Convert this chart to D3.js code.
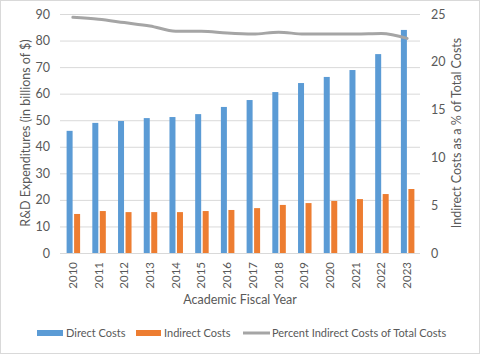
<!DOCTYPE html>
<html lang="en">
<head>
    <meta charset="UTF-8">
    <title>R&amp;D Expenditures</title>
    <script src="https://d3js.org/d3.v7.min.js"></script>
    <style>
        body { margin: 0; background: #fff; }
        svg text { font-family: Lato, "Liberation Sans", sans-serif; fill: #595959; }
    </style>
</head>
<body>
    <svg width="480" height="354"></svg>

    <script>
        // Data
        const years = ["2010", "2011", "2012", "2013", "2014", "2015", "2016",
                       "2017", "2018", "2019", "2020", "2021", "2022", "2023"];
        const directCosts = [46, 49, 49.7, 50.8, 51.2, 52.3, 55, 57.6, 60.6, 64, 66.3, 68.9, 74.9, 84];
        const indirectCosts = [14.7, 15.8, 15.4, 15.4, 15.4, 15.8, 16.2, 16.9, 18.1, 18.8, 19.6, 20.3, 22.2, 24.1];
        const percentIndirect = [24.65, 24.45, 24.1, 23.75, 23.2, 23.2, 23.0, 22.9, 23.1, 22.9, 22.9, 22.9, 22.95, 22.45];
        const leftTicks = [0, 10, 20, 30, 40, 50, 60, 70, 80, 90];
        const rightTicks = [0, 5, 10, 15, 20, 25];

        const svg = d3.select("svg");
        const plot = { left: 60, right: 420, top: 14, bottom: 253 };

        // chart border
        svg.append("rect")
            .attr("x", 0.5).attr("y", 0.5)
            .attr("width", 479).attr("height", 353)
            .attr("fill", "#fff").attr("stroke", "#d9d9d9");

        const x = d3.scaleBand().domain(years).range([plot.left, plot.right]);
        const yLeft = d3.scaleLinear().domain([0, 90]).range([plot.bottom, plot.top]);
        const yRight = d3.scaleLinear().domain([0, 25]).range([plot.bottom, plot.top]);

        const barW = 6, gap = 1.5;

        // gridlines
        svg.append("g")
            .attr("transform", `translate(${plot.left},0)`)
            .call(d3.axisLeft(yLeft).tickValues(leftTicks).tickSize(-(plot.right - plot.left)).tickFormat(""))
            .call(g => g.select(".domain").remove())
            .call(g => g.selectAll("line").attr("stroke", "#d9d9d9").attr("stroke-width", 1));

        // left axis labels
        svg.append("g")
            .attr("transform", `translate(${plot.left},0)`)
            .call(d3.axisLeft(yLeft).tickValues(leftTicks).tickSize(0).tickPadding(10))
            .call(g => g.select(".domain").remove())
            .call(g => g.selectAll("text").attr("font-size", 12.5));

        // right axis labels
        svg.append("g")
            .attr("transform", `translate(${plot.right},0)`)
            .call(d3.axisRight(yRight).tickValues(rightTicks).tickSize(0).tickPadding(11))
            .call(g => g.select(".domain").remove())
            .call(g => g.selectAll("text").attr("font-size", 12.5));

        // bars
        svg.append("g").selectAll("rect")
            .data(directCosts)
            .join("rect")
            .attr("x", (d, i) => x(years[i]) + x.bandwidth() / 2 - barW - gap / 2 + 0.5)
            .attr("y", d => yLeft(d))
            .attr("width", barW)
            .attr("height", d => plot.bottom - yLeft(d))
            .attr("fill", "#5b9bd5");

        svg.append("g").selectAll("rect")
            .data(indirectCosts)
            .join("rect")
            .attr("x", (d, i) => x(years[i]) + x.bandwidth() / 2 + gap / 2 + 0.5)
            .attr("y", d => yLeft(d))
            .attr("width", barW)
            .attr("height", d => plot.bottom - yLeft(d))
            .attr("fill", "#ed7d31");

        // baseline
        svg.append("line")
            .attr("x1", plot.left).attr("x2", plot.right)
            .attr("y1", plot.bottom + 0.5).attr("y2", plot.bottom + 0.5)
            .attr("stroke", "#d9d9d9");

        // percent line
        const line = d3.line()
            .x((d, i) => x(years[i]) + x.bandwidth() / 2)
            .y(d => yRight(d))
            .curve(d3.curveMonotoneX);

        svg.append("path")
            .datum(percentIndirect)
            .attr("fill", "none")
            .attr("stroke", "#a5a5a5")
            .attr("stroke-width", 3)
            .attr("stroke-linecap", "round")
            .attr("d", line);

        // x axis labels (rotated)
        svg.append("g").selectAll("text")
            .data(years)
            .join("text")
            .attr("transform", d => `translate(${x(d) + x.bandwidth() / 2 + 4},${plot.bottom + 9}) rotate(-90)`)
            .attr("text-anchor", "end")
            .attr("font-size", 11.5)
            .text(d => d);

        // axis titles
        svg.append("text")
            .attr("x", 240).attr("y", 304)
            .attr("text-anchor", "middle")
            .attr("font-size", 12.5)
            .text("Academic Fiscal Year");

        svg.append("text")
            .attr("transform", `translate(30,133) rotate(-90)`)
            .attr("text-anchor", "middle")
            .attr("font-size", 12.5)
            .text("R&D Expenditures (in billions of $)");

        svg.append("text")
            .attr("transform", `translate(461,133) rotate(-90)`)
            .attr("text-anchor", "middle")
            .attr("font-size", 12.5)
            .text("Indirect Costs as a % of Total Costs");

        // legend
        const legend = svg.append("g").attr("transform", "translate(0,333)");
        legend.append("rect").attr("x", 37).attr("y", -3).attr("width", 26).attr("height", 6).attr("fill", "#5b9bd5");
        legend.append("text").attr("x", 66).attr("y", 4).attr("font-size", 11).text("Direct Costs");
        legend.append("rect").attr("x", 136).attr("y", -3).attr("width", 25).attr("height", 6).attr("fill", "#ed7d31");
        legend.append("text").attr("x", 164).attr("y", 4).attr("font-size", 11).text("Indirect Costs");
        legend.append("line").attr("x1", 243).attr("x2", 270).attr("y1", 0).attr("y2", 0)
            .attr("stroke", "#a5a5a5").attr("stroke-width", 3);
        legend.append("text").attr("x", 272).attr("y", 4).attr("font-size", 11).text("Percent Indirect Costs of Total Costs");
    </script>
</body>
</html>
